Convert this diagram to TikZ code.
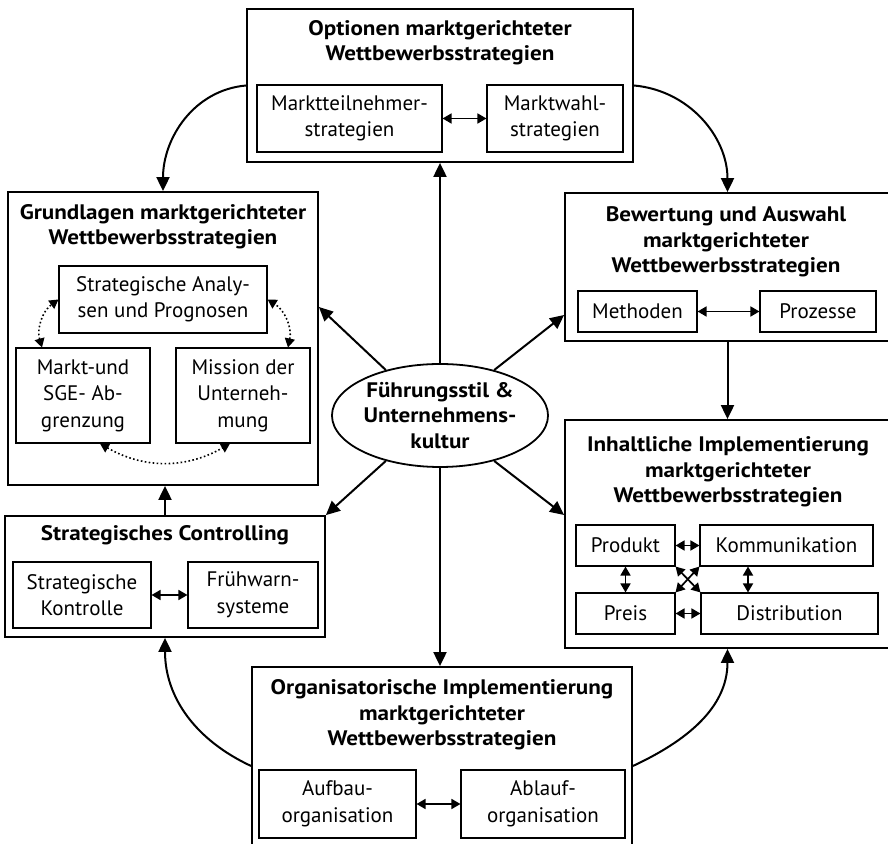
\documentclass[tikz,border=0pt]{standalone}
\usepackage{fontspec}
\setmainfont{PT Sans}
\newfontfamily\titlefont{PT Sans}[FakeStretch=1.1]
\usetikzlibrary{arrows.meta,shapes.geometric}

\begin{document}
\begin{tikzpicture}[x=1pt,y=1pt,
    font=\fontsize{21}{26.5}\selectfont,
    bigbox/.style={draw,line width=1.8pt,inner sep=0pt},
    smallbox/.style={draw,line width=1.1pt,align=center,inner sep=0pt},
    titletext/.style={align=center,inner sep=0pt,font=\titlefont\fontsize{21}{25.5}\selectfont\bfseries},
    mainarrow/.style={line width=2pt,-{Triangle[length=14pt,width=13pt]}},
    pairarrow/.style={line width=1.7pt,{Triangle[length=9pt,width=10pt]}-{Triangle[length=9pt,width=10pt]}},
    dotarrow/.style={line width=1.6pt,dash pattern=on 1.6pt off 2.4pt,{Triangle[length=9pt,width=10pt]}-{Triangle[length=9pt,width=10pt]}}]
    \clip (0,0) rectangle (888,843);
    % Optionen (oben)
    \node[bigbox,minimum width=386,minimum height=153] (opt) at (440,757.5) {};
    \node[titletext] (optT) at (440,800.5) {Optionen marktgerichteter\\Wettbewerbsstrategien};
    \node[smallbox,minimum width=185,minimum height=67] (mtn) at (349.5,724.5) {Marktteilnehmer-\\strategien};
    \node[smallbox,minimum width=136,minimum height=67] (mws) at (555,724.5) {Marktwahl-\\strategien};
    % Grundlagen (links oben)
    \node[bigbox,minimum width=310,minimum height=293] (grl) at (163,504.5) {};
    \node[titletext] (grlT) at (163,616.5) {Grundlagen marktgerichteter\\Wettbewerbsstrategien};
    \node[smallbox,minimum width=208,minimum height=67] (ana) at (163,543.5) {Strategische Analy-\\sen und Prognosen};
    \node[smallbox,minimum width=134,minimum height=95] (mab) at (83,447.5) {Markt-und\\SGE- Ab-\\grenzung};
    \node[smallbox,minimum width=134,minimum height=95] (mis) at (243,447.5) {Mission der\\Unterneh-\\mung};
    % Controlling (links unten)
    \node[bigbox,minimum width=320,minimum height=121] (ctl) at (165,266.5) {};
    \node[titletext] (ctlT) at (165,308) {Strategisches Controlling};
    \node[smallbox,minimum width=138,minimum height=66] (kon) at (82,248) {Strategische\\Kontrolle};
    \node[smallbox,minimum width=130,minimum height=66] (fws) at (253,248) {Frühwarn-\\systeme};
    % Bewertung (rechts oben)
    \node[bigbox,minimum width=325,minimum height=148] (bew) at (727.5,576) {};
    \node[titletext] (bewT) at (726,601) {Bewertung und Auswahl\\marktgerichteter\\Wettbewerbsstrategien};
    \node[smallbox,minimum width=119,minimum height=41] (met) at (637.5,531.5) {Methoden};
    \node[smallbox,minimum width=116,minimum height=41] (pro) at (818,531.5) {Prozesse};
    % Inhaltliche Implementierung (rechts unten)
    \node[bigbox,minimum width=325,minimum height=228] (inh) at (727.5,309) {};
    \node[titletext] (inhT) at (728,371) {Inhaltliche Implementierung\\marktgerichteter\\Wettbewerbsstrategien};
    \node[smallbox,minimum width=99,minimum height=41] (prd) at (625.5,297.5) {Produkt};
    \node[smallbox,minimum width=173,minimum height=41] (kom) at (786.5,297.5) {Kommunikation};
    \node[smallbox,minimum width=99,minimum height=41] (prs) at (625.5,229.5) {Preis};
    \node[smallbox,minimum width=177,minimum height=41] (dis) at (789.5,229.5) {Distribution};
    % Organisatorische Implementierung (unten)
    \node[bigbox,minimum width=380,minimum height=186] (org) at (442,83) {};
    \node[titletext] (orgT) at (442,128) {Organisatorische Implementierung\\marktgerichteter\\Wettbewerbsstrategien};
    \node[smallbox,minimum width=157,minimum height=68] (auf) at (337.5,39) {Aufbau-\\organisation};
    \node[smallbox,minimum width=164,minimum height=68] (abl) at (543,39) {Ablauf-\\organisation};
    % Mitte
    \node[draw,ellipse,line width=1.8pt,inner sep=0pt,minimum width=210,minimum height=103,
        align=center,font=\titlefont\fontsize{21}{25.5}\selectfont\bfseries] (fue) at (440,427.5)
        {Führungsstil \&\\Unternehmens-\\kultur};
    % Pfeile von der Mitte
    \draw[mainarrow] (fue.north) -- (opt.south);
    \draw[mainarrow] (fue.140) -- ([yshift=31.5pt]grl.east);
    \draw[mainarrow] (fue.40) -- ([yshift=-48pt]bew.west);
    \draw[mainarrow] (fue.220) -- (ctl.north east);
    \draw[mainarrow] (fue.320) -- ([yshift=19pt]inh.west);
    \draw[mainarrow] (fue.south) -- (fue.south |- org.north);
    % Pfeile zwischen den Kästen
    \draw[mainarrow] (ctl.north) -- (ctl.north |- grl.south);
    \draw[mainarrow] (bew.south) -- (inh.north);
    \draw[mainarrow] (opt.west) to[out=185,in=90] (grl.north);
    \draw[mainarrow] (opt.east) to[out=-5,in=90] (bew.north);
    \draw[mainarrow] ([yshift=-6pt]org.west) to[out=155,in=-90] (ctl.south);
    \draw[mainarrow] ([yshift=-6pt]org.east) to[out=25,in=-90] (inh.south);
    % Doppelpfeile innen
    \draw[pairarrow] (mtn.east) -- (mws.west);
    \draw[pairarrow] (met.east) -- (pro.west);
    \draw[pairarrow] (kon.east) -- (fws.west);
    \draw[pairarrow] (auf.east) -- (abl.west);
    \draw[pairarrow] (prd.east) -- (kom.west);
    \draw[pairarrow] (prs.east) -- (dis.west);
    \draw[pairarrow] (prd.south) -- (prs.north);
    \draw[pairarrow] ([xshift=-38.5pt]kom.south) -- ([xshift=-38.5pt]kom.south |- dis.north);
    \draw[pairarrow] (prd.south east) -- (dis.north west);
    \draw[pairarrow] (kom.south west) -- (prs.north east);
    % gepunktete Pfeile
    \draw[dotarrow] ([xshift=-41pt]mab.north) to[bend left=35] (ana.west);
    \draw[dotarrow] ([xshift=45pt]mis.north) to[bend right=35] (ana.east);
    \draw[dotarrow] ([xshift=17pt]mab.south) to[bend right=30] ([xshift=-13pt]mis.south);
\end{tikzpicture}
\end{document}
